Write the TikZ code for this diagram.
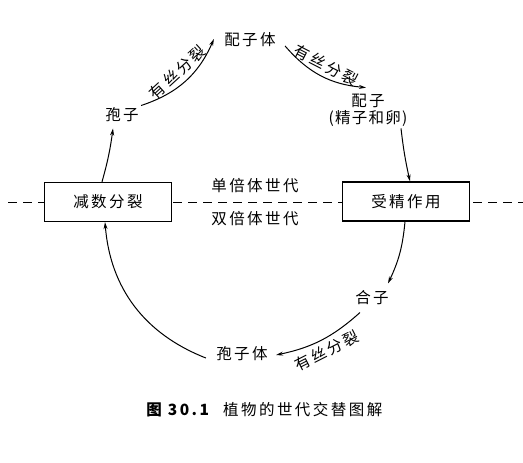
\documentclass[tikz,border=0pt]{standalone}
\usepackage{fontspec}
\usetikzlibrary{arrows.meta}
\newfontfamily\cjk{Noto Sans CJK SC}[LetterSpace=16]
\tikzset{
  stage/.style={draw, line width=1.3pt, minimum width=127pt, minimum height=39pt, inner sep=0pt},
  cycle/.style={->, line width=1pt},
  mitlabel/.style={midway, sloped, inner sep=4pt}
}
\begin{document}
\begin{tikzpicture}[>={Stealth[length=7pt,width=4pt]}, x=1pt, y=-1pt]
            \useasboundingbox (0,0) rectangle (523,463);
            \fontsize{15.5}{18}\selectfont\cjk

            % Dashed line between the two generations
            \draw[dashed, dash pattern=on 9pt off 6pt, line width=0.9pt] (8,202) -- (523,202);

            % Boxes
            \node[stage, fill=white] (meio) at (108,202) {减数分裂};
            \node[stage, fill=white] (fert) at (406,201.5) {受精作用};
            \node (hap) at (255,186) {单倍体世代};
            \node (dip) at (255,219) {双倍体世代};

            % Stages of the cycle
            \node (spore) at (122,115) {孢子};
            \node (gamph) at (250,40) {配子体};
            \node[align=center, inner sep=1pt] (gam) at (368,110) {配子\\[-1pt]{\addfontfeature{LetterSpace=8}(精子和卵)}};
            \node (zyg) at (372,298) {合子};
            \node (spph) at (242,354) {孢子体};

            % Arrows round the circle
            \draw[cycle] ([xshift=-6pt]meio.north) to[bend right=4] ([xshift=-9pt,yshift=-1pt]spore.south);
            \draw[cycle] ([xshift=-3pt,yshift=-3pt]spore.north east) to[bend right=24]
                node[mitlabel, above] {有丝分裂} ([xshift=-5pt,yshift=1pt]gamph.west);
            \draw[cycle] ([xshift=4pt,yshift=-6pt]gamph.east) to[bend right=22]
                node[mitlabel, above] {有丝分裂} ([xshift=-2pt,yshift=5pt]gam.north);
            \draw[cycle] ([xshift=33pt,yshift=-1pt]gam.south) to[bend right=3] ([xshift=4pt]fert.north);
            \draw[cycle] ([xshift=-1pt]fert.south) to[bend left=10] ([xshift=16pt,yshift=2pt]zyg.north);
            \draw[cycle] ([xshift=-12pt,yshift=-2pt]zyg.south) to[bend left=15]
                node[mitlabel, below] {有丝分裂} ([xshift=3pt,yshift=-1pt]spph.east);
            \draw[cycle] ([xshift=-5pt,yshift=-4pt]spph.west) to[bend left=32] ([xshift=-3pt]meio.south);

            % Caption
            \node[anchor=west] (cap) at (141,410) {{\bfseries 图 30.1}\hspace{14pt}植物的世代交替图解};
        \end{tikzpicture}
\end{document}
